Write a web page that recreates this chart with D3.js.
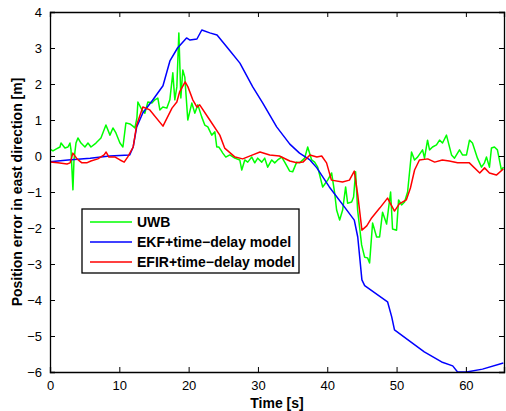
<!DOCTYPE html>
<html>
<head>
<meta charset="utf-8">
<script src="https://cdn.jsdelivr.net/npm/d3@7"></script>
<style>
	body { margin: 0; background: #fff; }
	svg { display: block; font-family: Arial, "Liberation Sans", Helvetica, sans-serif; }
</style>
</head>
<body>
<svg id="chart" width="506" height="411"></svg>
<script>
// [time s, error m]
const uwb = [
	[0, 0.19], [0.43, 0.14], [0.86, 0.19], [1.44, 0.25], [1.59, 0.36], [2.16, 0.22], [2.59, 0.25],
	[2.88, 0.36], [3.03, 0.17], [3.31, -0.94], [3.46, -0.11], [3.75, 0.36], [4.03, 0.5], [4.47, 0.36],
	[5.04, 0.25], [5.48, 0.36], [5.91, 0.25], [6.63, 0.36], [7.35, 0.5], [8.07, 0.86], [8.65, 0.58],
	[9.08, 0.78], [9.51, 0.64], [10.09, 0.36], [10.52, 0.25], [10.95, 0.92], [11.53, 0.89], [11.96, 0.83],
	[12.25, 0.78], [12.54, 1.06], [12.68, 1.5], [13.26, 1.28], [13.69, 1.19], [14.12, 1.5], [14.7, 1.47],
	[15.13, 1.56], [15.56, 1.61], [15.85, 1.28], [16.28, 1.36], [16.86, 1.33], [17.29, 1.56], [17.72, 2.31],
	[18.01, 1.56], [18.3, 1.92], [18.59, 3.42], [18.88, 1.61], [19.16, 2.39], [19.45, 2.19], [19.88, 1.0],
	[20.46, 1.47], [20.89, 1.19], [21.33, 1.42], [21.9, 1.08], [22.33, 0.86], [22.77, 0.81], [23.34, 0.58],
	[23.78, 0.67], [24.06, 0.25], [24.35, 0.25], [24.64, 0.17], [24.93, 0.08], [25.36, -0.03], [25.94, 0.03],
	[26.66, -0.06], [27.38, -0.11], [27.67, -0.39], [28.1, -0.11], [28.53, -0.17], [29.11, -0.03], [29.54, -0.19],
	[29.97, -0.06], [30.55, -0.17], [30.98, -0.06], [31.41, -0.31], [31.99, -0.11], [32.42, -0.19], [32.85, -0.11],
	[33.43, -0.03], [33.86, -0.17], [34.58, -0.42], [35.01, -0.44], [35.59, -0.17], [36.02, -0.19], [36.74, -0.06],
	[37.18, 0.25], [37.75, -0.11], [38.18, -0.17], [38.62, -0.31], [39.34, -0.86], [40.06, -0.67], [40.63, -0.47],
	[41.07, -1.03], [41.35, -1.5], [41.79, -1.78], [42.22, -1.5], [42.65, -0.86], [42.94, -1.31], [43.52, -1.28],
	[43.8, -1.14], [44.09, -0.44], [44.38, -1.5], [44.96, -2.47], [45.39, -2.81], [45.82, -2.83], [46.11, -2.97],
	[46.54, -1.86], [47.12, -2.25], [47.55, -2.25], [47.98, -1.56], [48.56, -1.89], [49.14, -1.0], [49.42, -2.03],
	[50.0, -2.06], [50.29, -1.22], [50.72, -1.36], [51.15, -1.28], [51.59, -1.0], [52.16, 0.11], [52.59, -0.11],
	[53.03, -0.03], [53.75, 0.17], [54.03, -0.06], [54.47, 0.44], [54.76, 0.17], [55.19, 0.25], [55.76, 0.31],
	[56.2, 0.44], [56.63, 0.36], [57.2, 0.58], [57.93, 0.03], [58.36, -0.06], [59.08, 0.17], [59.51, 0.03],
	[60.09, 0.03], [60.52, 0.44], [60.95, 0.36], [61.67, -0.06], [62.25, -0.31], [62.68, -0.19], [62.97, -0.03],
	[63.4, -0.31], [63.69, 0.22], [64.12, 0.25], [64.55, 0.17], [65.13, -0.39], [65.42, -0.31]
];

const ekf = [
	[0, -0.16], [2.6, -0.11], [5.8, -0.06], [8.6, 0.0], [11.5, 0.03], [12.0, 0.25], [12.5, 0.8],
	[13.4, 1.2], [14.8, 1.55], [16.3, 1.95], [17.3, 2.64], [18.4, 3.0], [19.7, 3.28], [20.2, 3.22],
	[21.2, 3.25], [21.9, 3.5], [23.05, 3.42], [24.1, 3.36], [25.9, 2.94], [27.4, 2.58], [29.25, 1.92],
	[30.7, 1.47], [32.7, 0.81], [34.6, 0.33], [36.0, 0.08], [37.5, -0.11], [38.5, -0.33], [40.3, -0.86],
	[42.5, -1.42], [43.9, -1.78], [44.4, -2.25], [45.0, -3.44], [45.4, -3.6], [48.7, -4.05], [49.3, -4.47],
	[49.7, -4.83], [51.6, -5.1], [54.0, -5.44], [56.5, -5.72], [58.1, -5.83], [58.8, -6.0], [60.1, -6.0],
	[62.4, -5.92], [65.4, -5.75]
];

const efir = [
	[0, -0.17], [1.15, -0.19], [2.45, -0.22], [2.9, -0.19], [3.3, 0.08], [3.9, -0.08], [4.6, -0.19],
	[5.3, -0.19], [5.9, -0.14], [6.9, -0.08], [7.8, 0.03], [8.1, 0.11], [8.5, -0.03], [9.4, -0.03],
	[10.1, -0.11], [10.7, -0.17], [11.2, -0.03], [12.0, 0.25], [12.5, 0.86], [13.4, 1.36], [14.4, 1.28],
	[16.3, 0.83], [17.6, 1.33], [18.3, 1.5], [18.7, 1.78], [19.5, 2.06], [19.9, 1.92], [20.6, 1.56],
	[21.2, 1.36], [21.6, 1.42], [23.05, 1.0], [24.5, 0.58], [25.2, 0.22], [26.7, -0.03], [27.8, -0.08],
	[29.25, 0.03], [30.3, 0.11], [31.7, 0.03], [33.1, 0.0], [34.6, -0.14], [35.6, -0.19], [36.5, -0.17],
	[37.5, 0.03], [38.5, -0.03], [39.2, 0.0], [39.9, -0.19], [40.6, -0.67], [42.2, -0.72], [43.2, -0.67],
	[43.9, -0.42], [44.4, -1.08], [45.0, -2.06], [45.7, -1.94], [46.4, -1.72], [47.6, -1.44], [48.7, -1.17],
	[49.7, -1.53], [50.4, -1.33], [51.4, -1.22], [52.0, -0.89], [52.6, -0.39], [53.3, -0.11], [54.5, -0.08],
	[55.5, -0.17], [56.6, -0.11], [57.6, -0.14], [58.8, -0.19], [60.5, -0.19], [62.0, -0.47], [62.7, -0.33],
	[63.4, -0.47], [64.4, -0.53], [65.4, -0.36]
];

const xTicks = [0, 10, 20, 30, 40, 50, 60];
const yTicks = [-6, -5, -4, -3, -2, -1, 0, 1, 2, 3, 4];
const seriesNames = ['UWB', 'EKF+time\u2212delay model', 'EFIR+time\u2212delay model'];
const seriesColors = ['#00ff00', '#0000ff', '#ff0000'];

const svg = d3.select('#chart');
const margin = { left: 50, right: 2, top: 12, bottom: 39 };
const width = 506 - margin.left - margin.right;
const height = 411 - margin.top - margin.bottom;

const x = d3.scaleLinear().domain([0, 65.5]).range([0, width]);
const y = d3.scaleLinear().domain([-6, 4]).range([height, 0]);

const fmt = d => d < 0 ? '\u2212' + Math.abs(d) : String(d);

const g = svg.append('g').attr('transform', `translate(${margin.left},${margin.top})`);

g.append('defs').append('clipPath').attr('id', 'clip')
	.append('rect').attr('width', width).attr('height', height);

// curves, green first so red/blue sit on top
const line = d3.line().x(d => x(d[0])).y(d => y(d[1]));
const plot = g.append('g').attr('clip-path', 'url(#clip)');
[uwb, ekf, efir].forEach((data, i) => {
	plot.append('path')
		.datum(data)
		.attr('d', line)
		.attr('fill', 'none')
		.attr('stroke', seriesColors[i])
		.attr('stroke-width', 1.5)
		.attr('stroke-linejoin', 'round');
});

// axes, matlab style: ticks pointing inward on all four sides
const axBottom = g.append('g').attr('transform', `translate(0,${height})`)
	.call(d3.axisBottom(x).tickValues(xTicks).tickSize(-5).tickPadding(9).tickFormat(fmt));
const axTop = g.append('g')
	.call(d3.axisTop(x).tickValues(xTicks).tickSize(-5).tickFormat(''));
const axLeft = g.append('g')
	.call(d3.axisLeft(y).tickValues(yTicks).tickSize(-5).tickPadding(8).tickFormat(fmt));
const axRight = g.append('g').attr('transform', `translate(${width},0)`)
	.call(d3.axisRight(y).tickValues(yTicks).tickSize(-5).tickFormat(''));

[axBottom, axTop, axLeft, axRight].forEach(a => {
	a.select('.domain').attr('stroke', '#000').attr('stroke-width', 1.3);
	a.selectAll('.tick line').attr('stroke', '#000');
	a.selectAll('text').attr('font-size', 13).attr('fill', '#000')
		.attr('font-family', 'Arial, "Liberation Sans", Helvetica, sans-serif');
});

// axis labels
svg.append('text')
	.attr('x', margin.left + width / 2).attr('y', 408)
	.attr('text-anchor', 'middle')
	.attr('font-size', 14).attr('font-weight', 'bold')
	.text('Time [s]');

svg.append('text')
	.attr('transform', `translate(22,${margin.top + height / 2}) rotate(-90)`)
	.attr('text-anchor', 'middle')
	.attr('font-size', 14).attr('font-weight', 'bold')
	.text('Position error in east direction [m]');

// legend
const legend = svg.append('g').attr('transform', 'translate(82,209)');
legend.append('rect')
	.attr('width', 217).attr('height', 64)
	.attr('fill', '#fff').attr('stroke', '#000').attr('stroke-width', 1.3);
seriesNames.forEach((name, i) => {
	const row = legend.append('g').attr('transform', `translate(0,${13 + i * 20})`);
	row.append('line')
		.attr('x1', 8).attr('x2', 50)
		.attr('stroke', seriesColors[i]).attr('stroke-width', 1.5);
	row.append('text')
		.attr('x', 55).attr('y', 5)
		.attr('font-size', 14).attr('font-weight', 'bold')
		.text(name);
});
</script>
</body>
</html>
